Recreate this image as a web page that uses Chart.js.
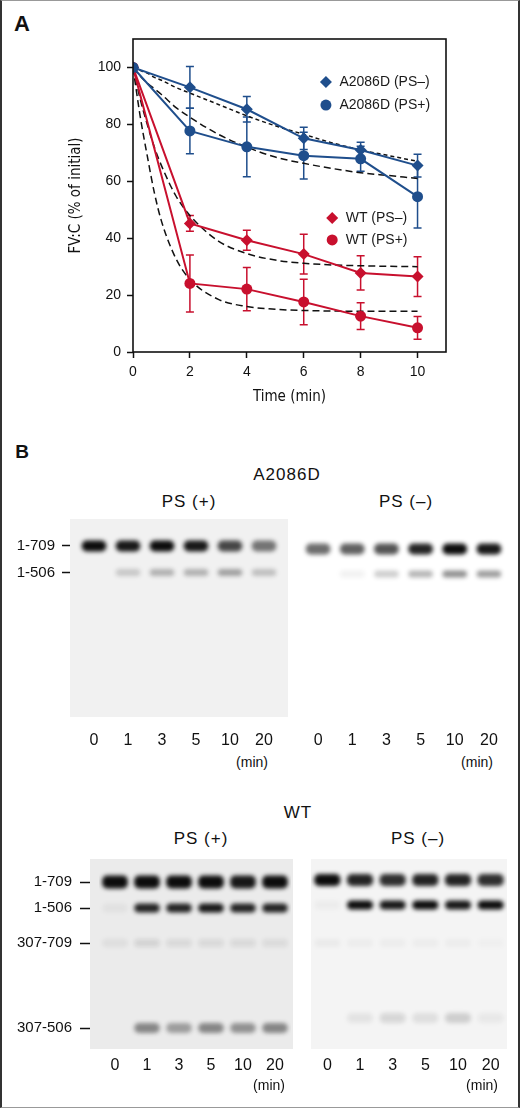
<!DOCTYPE html>
<html>
<head>
<meta charset="utf-8">
<script src="https://cdn.jsdelivr.net/npm/chart.js@4.4.1/dist/chart.umd.min.js"></script>
<style>
  html, body { margin: 0; padding: 0; background: #fff; }
  body { width: 520px; height: 1108px; position: relative; overflow: hidden;
         font-family: 'Liberation Sans', Arial, sans-serif; color: #111; }
  .frame { position: absolute; left: 0; top: 0; width: 520px; height: 1108px; box-sizing: border-box;
           border: 1px solid #999; border-left: 2px solid #333; border-right: 2px solid #333; }
  canvas { position: absolute; }
  .txt { position: absolute; transform: translate(-50%, -50%); white-space: nowrap; line-height: 1; }
  .head { font-size: 17px; letter-spacing: 1px; }
  .unit { font-size: 14px; }
</style>
</head>
<body>
<div class="frame"></div>

<div class="txt" style="left:22px;top:24px;font-weight:bold;font-size:22px">A</div>
<canvas id="decay" width="400" height="380" style="left:60px;top:30px"></canvas>

<div class="txt" style="left:22px;top:451px;font-weight:bold;font-size:19px">B</div>
<div class="txt head" style="left:287px;top:474px">A2086D</div>
<div class="txt head" style="left:189px;top:501px">PS (+)</div>
<div class="txt head" style="left:406px;top:501px">PS (–)</div>
<canvas id="blotMutPlus" width="292" height="233" style="left:0px;top:519px"></canvas>
<canvas id="blotMutMinus" width="220" height="233" style="left:294px;top:519px"></canvas>
<div class="txt unit" style="left:252px;top:762px">(min)</div>
<div class="txt unit" style="left:477px;top:762px">(min)</div>

<div class="txt head" style="left:298px;top:812px">WT</div>
<div class="txt head" style="left:201px;top:838px">PS (+)</div>
<div class="txt head" style="left:418px;top:838px">PS (–)</div>
<canvas id="blotWtPlus" width="300" height="220" style="left:0px;top:859px"></canvas>
<canvas id="blotWtMinus" width="210" height="220" style="left:304px;top:859px"></canvas>
<div class="txt unit" style="left:269px;top:1085px">(min)</div>
<div class="txt unit" style="left:482px;top:1085px">(min)</div>

<script>
// ---- panel A: FV:C activity over time ----
const timeMin = [0, 2, 4, 6, 8, 10];
const a2086dMinus = [100, 93.0, 85.3, 75.1, 71.0, 65.5];
const a2086dMinusErr = [0, 7.3, 4.5, 3.9, 2.7, 4.0];
const a2086dPlus = [100, 77.7, 72.1, 69.0, 67.9, 54.6];
const a2086dPlusErr = [0, 8.0, 10.5, 8.2, 4.4, 11.0];
const wtMinus = [100, 45.2, 39.3, 34.4, 27.8, 26.5];
const wtMinusErr = [0, 2.8, 3.5, 7.0, 6.0, 7.0];
const wtPlus = [100, 24.1, 22.1, 17.6, 12.6, 8.5];
const wtPlusErr = [0, 10.0, 7.6, 8.0, 4.7, 4.0];

// dashed fitted decay curves
const fitTime = [0, 0.25, 0.5, 0.75, 1, 1.5, 2, 3, 4, 5, 6, 7, 8, 9, 10];
const fitA2086dMinus = [100, 99, 98, 96.5, 95.5, 93, 91, 87, 83, 79.5, 76.5, 73.5, 71, 69, 67];
const fitA2086dPlus = [100, 97, 94.5, 92.5, 90.5, 86, 82.5, 76.5, 72, 68.5, 66.3, 64.5, 63, 62, 61];
const fitWtMinus = [100, 89, 80, 72, 65.5, 55, 48, 39, 34.6, 32.3, 31.2, 30.6, 30.3, 30.1, 30];
const fitWtPlus = [100, 83, 69, 56, 46, 33, 25.5, 18.5, 16, 15, 14.6, 14.4, 14.3, 14.3, 14.3];

const xTicks = [0, 2, 4, 6, 8, 10];
const yTicks = [0, 20, 40, 60, 80, 100];

// ---- panel B: western blots ----
const laneTimes = ['0', '1', '3', '5', '10', '20'];
const fragments = ['1-709', '1-506', '307-709', '307-506'];

// migration from the well (gel units) and band strength per lane (0-1)
const mutPlusMigration = [27, 53.5];
const mutPlusBands = [
  [1.00, 0.95, 1.00, 0.95, 0.75, 0.55],
  [0.00, 0.18, 0.28, 0.28, 0.35, 0.22]
];
const mutMinusMigration = [30, 55];
const mutMinusBands = [
  [0.60, 0.65, 0.70, 0.90, 1.00, 0.95],
  [0.00, 0.06, 0.20, 0.30, 0.45, 0.40]
];
const wtPlusMigration = [23, 49, 84, 169];
const wtPlusBands = [
  [1.00, 1.00, 1.00, 1.00, 0.95, 1.00],
  [0.04, 0.90, 0.90, 0.95, 0.90, 0.90],
  [0.06, 0.10, 0.08, 0.08, 0.08, 0.07],
  [0.00, 0.45, 0.35, 0.45, 0.40, 0.45]
];
const wtMinusMigration = [21, 46, 84, 159];
const wtMinusBands = [
  [1.00, 0.90, 0.85, 0.90, 0.90, 0.85],
  [0.03, 1.00, 0.95, 1.00, 0.95, 1.00],
  [0.04, 0.03, 0.03, 0.03, 0.03, 0.02],
  [0.00, 0.07, 0.12, 0.09, 0.16, 0.05]
];

const BLUE = '#1f4e8c';
const RED = '#c8102e';
const NARROW = "'DejaVu Sans Condensed', 'Liberation Sans Narrow', sans-serif";

Chart.defaults.font.family = "'Liberation Sans', Arial, sans-serif";
Chart.defaults.color = '#111';

function points(xs, ys) {
  return xs.map((x, i) => ({ x: x, y: ys[i] }));
}

function seriesLine(label, ys, errs, color, style) {
  return {
    label: label,
    data: points(timeMin, ys),
    errors: errs,
    borderColor: color,
    backgroundColor: color,
    borderWidth: 2,
    pointStyle: style,
    pointRadius: style === 'rectRot' ? 6 : 5.5,
    pointBorderWidth: 0,
    pointBackgroundColor: color,
    tension: 0,
    order: 1
  };
}

function fitLine(ys, dash) {
  return {
    data: points(fitTime, ys),
    borderColor: '#111',
    borderWidth: 1.5,
    borderDash: dash,
    pointRadius: 0,
    cubicInterpolationMode: 'monotone',
    order: 2
  };
}

const errorBarPlugin = {
  id: 'errorBars',
  beforeDatasetsDraw(chart) {
    const ctx = chart.ctx;
    const y = chart.scales.y;
    chart.data.datasets.forEach((ds, i) => {
      if (!ds.errors) return;
      const meta = chart.getDatasetMeta(i);
      ctx.save();
      ctx.strokeStyle = ds.borderColor;
      ctx.lineWidth = 1.5;
      meta.data.forEach((pt, j) => {
        const e = ds.errors[j];
        if (!e) return;
        const v = ds.data[j].y;
        const top = y.getPixelForValue(v + e);
        const bot = y.getPixelForValue(v - e);
        ctx.beginPath();
        ctx.moveTo(pt.x, top); ctx.lineTo(pt.x, bot);
        ctx.moveTo(pt.x - 4, top); ctx.lineTo(pt.x + 4, top);
        ctx.moveTo(pt.x - 4, bot); ctx.lineTo(pt.x + 4, bot);
        ctx.stroke();
      });
      ctx.restore();
    });
  }
};

// two legend blocks sitting inside the plot
const legendItems = [
  { text: 'A2086D (PS–)', style: 'rectRot', color: BLUE, at: [6.78, 94.9] },
  { text: 'A2086D (PS+)', style: 'circle', color: BLUE, at: [6.78, 86.8] },
  { text: 'WT (PS–)', style: 'rectRot', color: RED, at: [7.0, 47.1] },
  { text: 'WT (PS+)', style: 'circle', color: RED, at: [7.0, 39.4] }
];

const legendPlugin = {
  id: 'insideLegend',
  afterDatasetsDraw(chart) {
    const ctx = chart.ctx;
    const { x, y } = chart.scales;
    legendItems.forEach(item => {
      const px = x.getPixelForValue(item.at[0]);
      const py = y.getPixelForValue(item.at[1]);
      ctx.save();
      ctx.fillStyle = item.color;
      ctx.strokeStyle = item.color;
      Chart.helpers.drawPoint(ctx, {
        pointStyle: item.style,
        radius: item.style === 'rectRot' ? 6 : 5.5,
        rotation: 0,
        borderWidth: 0
      }, px, py);
      ctx.fillStyle = '#1a1a1a';
      ctx.font = "14px 'Liberation Sans', Arial, sans-serif";
      ctx.textBaseline = 'middle';
      ctx.fillText(item.text, px + 13.5, py + 0.5);
      ctx.restore();
    });
  }
};

const framePlugin = {
  id: 'frame',
  afterDraw(chart) {
    const { ctx, chartArea: a } = chart;
    ctx.save();
    ctx.strokeStyle = '#111';
    ctx.lineWidth = 1.6;
    ctx.strokeRect(a.left, a.top, a.width, a.height);
    ctx.restore();
  }
};

new Chart(document.getElementById('decay'), {
  type: 'line',
  data: {
    datasets: [
      seriesLine('A2086D (PS–)', a2086dMinus, a2086dMinusErr, BLUE, 'rectRot'),
      seriesLine('A2086D (PS+)', a2086dPlus, a2086dPlusErr, BLUE, 'circle'),
      seriesLine('WT (PS–)', wtMinus, wtMinusErr, RED, 'rectRot'),
      seriesLine('WT (PS+)', wtPlus, wtPlusErr, RED, 'circle'),
      fitLine(fitA2086dMinus, [4, 3]),
      fitLine(fitA2086dPlus, [7, 4]),
      fitLine(fitWtMinus, [7, 4]),
      fitLine(fitWtPlus, [7, 4])
    ]
  },
  options: {
    responsive: false,
    animation: false,
    layout: { padding: { top: 9, right: 14, left: 0, bottom: 0 } },
    plugins: { legend: { display: false }, tooltip: { enabled: false } },
    scales: {
      x: {
        type: 'linear', min: 0, max: 11,
        afterBuildTicks: s => { s.ticks = xTicks.map(v => ({ value: v })); },
        ticks: { padding: 6, font: { size: 14 } },
        grid: { drawOnChartArea: false, tickLength: 6, tickWidth: 1.5, tickColor: '#111' },
        border: { display: false },
        title: { display: true, text: 'Time (min)', font: { family: NARROW, size: 15 }, padding: { top: 0, bottom: 4 } },
        afterFit: s => { s.height = 58; s.paddingLeft = 0; s.paddingRight = 0; }
      },
      y: {
        min: 0, max: 110,
        afterBuildTicks: s => { s.ticks = yTicks.map(v => ({ value: v })); },
        ticks: { padding: 6, font: { size: 14 } },
        grid: { drawOnChartArea: false, tickLength: 6, tickWidth: 1.5, tickColor: '#111' },
        border: { display: false },
        title: { display: true, text: 'FV:C (% of initial)', font: { family: NARROW, size: 15 }, padding: { top: 7, bottom: 0 } },
        afterFit: s => { s.width = 73; s.paddingTop = 0; s.paddingBottom = 0; }
      }
    }
  },
  plugins: [errorBarPlugin, legendPlugin, framePlugin]
});

// gel background + blurred bands
const gelPlugin = {
  id: 'gel',
  beforeDatasetsDraw(chart, args, opts) {
    const { ctx, chartArea: a } = chart;
    ctx.save();
    ctx.fillStyle = opts.color;
    ctx.fillRect(a.left - opts.padLeft, a.top, a.width + opts.padLeft + opts.padRight, a.height);
    ctx.restore();
    ctx.save();
    ctx.filter = 'blur(' + opts.blur + 'px)';
  },
  afterDatasetsDraw(chart) {
    chart.ctx.restore();
  }
};

function drawBlot(id, migration, bands, look) {
  const datasets = bands.map((row, k) => ({
    data: row.map(() => [migration[k] - look.half[k], migration[k] + look.half[k]]),
    backgroundColor: row.map(v => 'rgba(12,12,12,' + v + ')'),
    grouped: false,
    barPercentage: look.bar,
    categoryPercentage: 1,
    borderRadius: 5,
    borderSkipped: false
  }));

  const yAxis = {
    display: look.markers,
    reverse: true, min: 0, max: look.length,
    afterBuildTicks: s => { s.ticks = migration.map(v => ({ value: v })); },
    ticks: { callback: (v, i) => fragments[i], padding: look.labelPad, font: { size: 15 } },
    grid: { drawOnChartArea: false, tickLength: look.tick, tickWidth: 1.5, tickColor: '#111' },
    border: { display: false }
  };
  if (look.markers) {
    yAxis.afterFit = s => { s.width = look.axisWidth; s.paddingTop = 0; s.paddingBottom = 0; };
  }

  new Chart(document.getElementById(id), {
    type: 'bar',
    data: { labels: laneTimes, datasets: datasets },
    options: {
      responsive: false,
      animation: false,
      layout: { padding: { left: look.padLeft, right: look.padRight, top: 0, bottom: 0 } },
      plugins: {
        legend: { display: false },
        tooltip: { enabled: false },
        gel: { color: look.gel, padLeft: look.gelLeft, padRight: look.gelRight, blur: 2 }
      },
      scales: {
        x: {
          type: 'category',
          ticks: { padding: look.lanePad, font: { size: 16 }, maxRotation: 0, autoSkip: false },
          grid: { display: false, drawTicks: false, tickLength: 0 },
          border: { display: false },
          afterFit: s => { s.height = look.axisHeight; s.paddingLeft = 0; s.paddingRight = 0; }
        },
        y: yAxis
      }
    },
    plugins: [gelPlugin]
  });
}

drawBlot('blotMutPlus', mutPlusMigration, mutPlusBands, {
  markers: true, axisWidth: 77, tick: 15, labelPad: 7, padLeft: 0, padRight: 11,
  length: 198, axisHeight: 35, lanePad: 14, half: [5.5, 3.5], bar: 0.72,
  gel: '#f1f1f1', gelLeft: 7, gelRight: 7
});
drawBlot('blotMutMinus', mutMinusMigration, mutMinusBands, {
  markers: false, padLeft: 7, padRight: 8,
  length: 198, axisHeight: 35, lanePad: 14, half: [5.5, 3.5], bar: 0.72,
  gel: '#ffffff', gelLeft: 0, gelRight: 0
});
drawBlot('blotWtPlus', wtPlusMigration, wtPlusBands, {
  markers: true, axisWidth: 99, tick: 19, labelPad: 8, padLeft: 0, padRight: 9,
  length: 190, axisHeight: 30, lanePad: 7, half: [6.5, 4.5, 4, 5], bar: 0.8,
  gel: '#ebebeb', gelLeft: 9, gelRight: 2
});
drawBlot('blotWtMinus', wtMinusMigration, wtMinusBands, {
  markers: false, padLeft: 7, padRight: 7,
  length: 190, axisHeight: 30, lanePad: 7, half: [6, 4.5, 4, 5], bar: 0.8,
  gel: '#f4f4f4', gelLeft: 0, gelRight: 0
});
</script>
</body>
</html>
